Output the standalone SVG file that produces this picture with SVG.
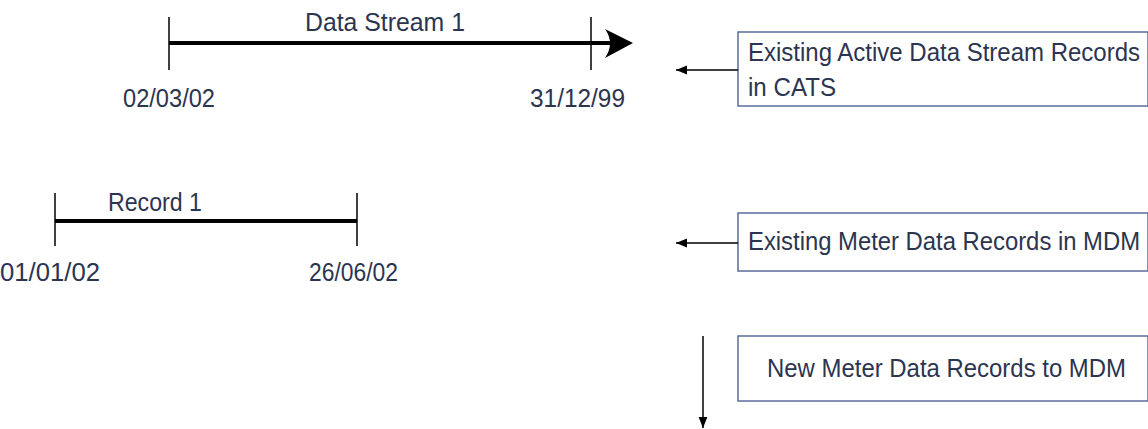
<svg xmlns="http://www.w3.org/2000/svg" width="1148" height="429" viewBox="0 0 1148 429">
<style>
text{font-family:"Liberation Sans",Arial,sans-serif;font-size:26px;fill:#2c3550}
.tl{stroke:#000;stroke-width:4;fill:none}
.tk{stroke:#000;stroke-width:1.5;fill:none}
.box{fill:#fff;stroke:#5b6b9b;stroke-width:1.5}
.con{stroke:#000;stroke-width:1.5;fill:none}
</style>
<defs>
<marker id="ah" viewBox="0 0 10 10" refX="10" refY="5" markerWidth="11" markerHeight="11" markerUnits="userSpaceOnUse" orient="auto">
<path d="M0,1 L10,5 L0,9 Z" fill="#000"/>
</marker>
</defs>
<g id="data-stream-1">
<line class="tl" x1="169" y1="43" x2="612" y2="43"/>
<path d="M605,29 Q615,43 605,58 L633,43 Z" fill="#000"/>
<line class="tk" x1="169" y1="17" x2="169" y2="70"/>
<line class="tk" x1="591" y1="17" x2="591" y2="70"/>
<text x="305" y="31" textLength="160" lengthAdjust="spacingAndGlyphs">Data Stream 1</text>
<text x="123" y="107" textLength="92" lengthAdjust="spacingAndGlyphs">02/03/02</text>
<text x="530" y="107" textLength="95" lengthAdjust="spacingAndGlyphs">31/12/99</text>
</g>
<g id="record-1">
<line class="tl" x1="55" y1="221" x2="357" y2="221"/>
<line class="tk" x1="55" y1="193" x2="55" y2="246"/>
<line class="tk" x1="357" y1="193" x2="357" y2="246"/>
<text x="108" y="211" textLength="94" lengthAdjust="spacingAndGlyphs">Record 1</text>
<text x="0" y="281" textLength="100" lengthAdjust="spacingAndGlyphs">01/01/02</text>
<text x="309" y="281" textLength="89" lengthAdjust="spacingAndGlyphs">26/06/02</text>
</g>
<g id="box-cats">
<rect class="box" x="738" y="32" width="410" height="74"/>
<text x="748" y="61" textLength="392" lengthAdjust="spacingAndGlyphs">Existing Active Data Stream Records</text>
<text x="748" y="96" textLength="88" lengthAdjust="spacingAndGlyphs">in CATS</text>
</g>
<g id="box-mdm-existing">
<rect class="box" x="738" y="213" width="410" height="58"/>
<text x="748" y="250" textLength="392" lengthAdjust="spacingAndGlyphs">Existing Meter Data Records in MDM</text>
</g>
<g id="box-mdm-new">
<rect class="box" x="738" y="336" width="410" height="65"/>
<text x="767" y="377" textLength="359" lengthAdjust="spacingAndGlyphs">New Meter Data Records to MDM</text>
</g>
<g id="connectors">
<line class="con" x1="738" y1="70" x2="676" y2="70" marker-end="url(#ah)"/>
<line class="con" x1="738" y1="243" x2="676" y2="243" marker-end="url(#ah)"/>
<line class="con" x1="703" y1="336" x2="703" y2="428" marker-end="url(#ah)"/>
</g>
</svg>
